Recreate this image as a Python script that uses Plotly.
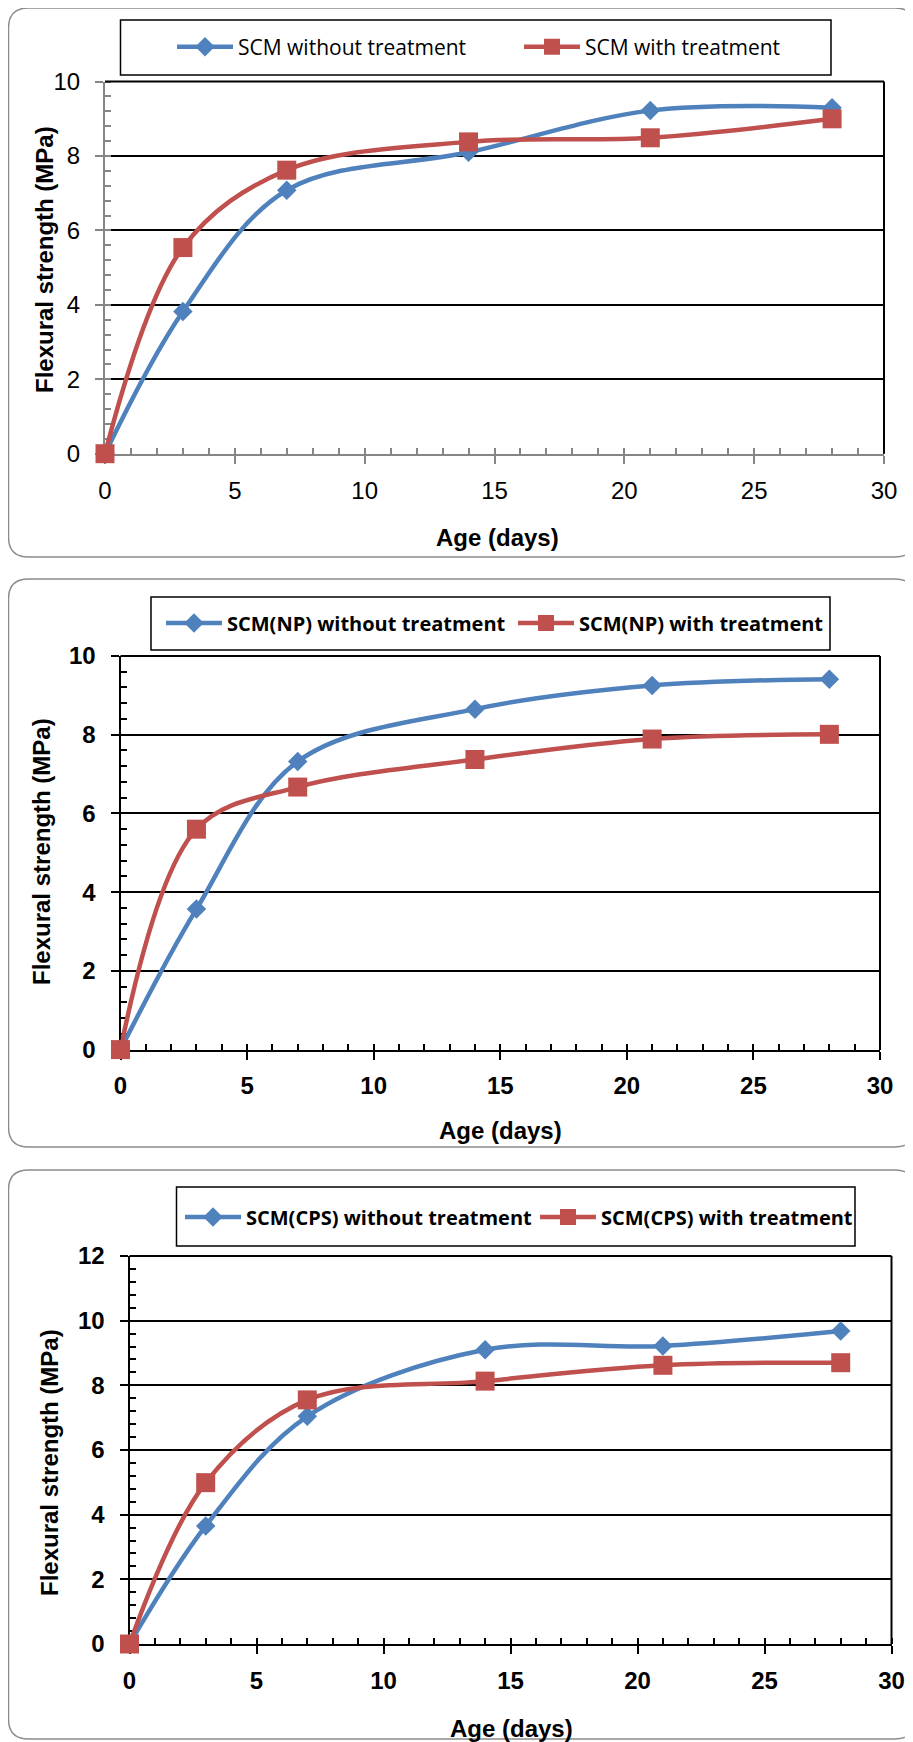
import plotly.graph_objects as go

# ages (days)
days = [0, 3, 7, 14, 21, 28]

# panel 1 - SCM
scm_without = [0, 3.82, 7.08, 8.1, 9.22, 9.3]
scm_with = [0, 5.54, 7.62, 8.38, 8.49, 9.0]

# panel 2 - SCM(NP)
np_without = [0, 3.57, 7.32, 8.65, 9.25, 9.41]
np_with = [0, 5.6, 6.67, 7.37, 7.89, 8.01]

# panel 3 - SCM(CPS)
cps_without = [0, 3.65, 7.04, 9.1, 9.22, 9.68]
cps_with = [0, 4.99, 7.55, 8.13, 8.62, 8.7]

names = [
    ("SCM without treatment", "SCM with treatment"),
    ("SCM(NP) without treatment", "SCM(NP) with treatment"),
    ("SCM(CPS) without treatment", "SCM(CPS) with treatment"),
]
series = [(scm_without, scm_with), (np_without, np_with), (cps_without, cps_with)]
y_max = [10, 10, 12]

# the page puts the figure 8px in from the top-left corner
OFF = 8
W, H = 913 - OFF, 1742 - OFF
BLUE = "#4F81BD"
RED = "#C0504D"


def px(x):
    return (x - OFF) / W


def py(y):
    return 1 - (y - OFF) / H


# pixel layout of each panel (page coords): plot area, legend box, frame, titles
panels = [
    dict(plot=(105, 81.6, 884, 453.7), leg=(120.5, 20, 831, 75), leg_x=(177, 524),
         leg_y=47, legsize=21, frame=(8.5, 8, 915, 557), ytitle=(44, 260),
         xtitle=(498, 537), bold=False, axcol="#868686"),
    dict(plot=(120.5, 656, 880, 1049.6), leg=(151, 597, 830, 650), leg_x=(166, 518),
         leg_y=623, legsize=20, frame=(8.5, 579, 915, 1147), ytitle=(41, 852),
         xtitle=(500, 1130), bold=True, axcol="black"),
    dict(plot=(129.5, 1256, 891.5, 1644), leg=(176.5, 1187, 855, 1246), leg_x=(185, 540),
         leg_y=1217, legsize=20, frame=(8.5, 1170, 915, 1739), ytitle=(49, 1463),
         xtitle=(511, 1728), bold=True, axcol="black"),
]

fig = go.Figure()
shapes = []
annotations = []
layout = {}


def rrect(x0, y0, x1, y1, r):
    pts = [
        ("M", [(x0 + r, y0)]), ("L", [(x1 - r, y0)]), ("Q", [(x1, y0), (x1, y0 + r)]),
        ("L", [(x1, y1 - r)]), ("Q", [(x1, y1), (x1 - r, y1)]),
        ("L", [(x0 + r, y1)]), ("Q", [(x0, y1), (x0, y1 - r)]),
        ("L", [(x0, y0 + r)]), ("Q", [(x0, y0), (x0 + r, y0)]),
    ]
    s = ""
    for cmd, ps in pts:
        s += cmd + " " + " ".join(f"{px(a):.5f},{py(b):.5f}" for a, b in ps) + " "
    return s + "Z"


for i, p in enumerate(panels):
    n = "" if i == 0 else str(i + 1)
    xa, ya = "x" + n, "y" + n
    wo, wi = series[i]
    weight = "bold" if p["bold"] else "normal"
    tickfont = dict(family="Liberation Sans", size=24, color="black", weight=weight)

    # one legend per trace so each entry sits where the reference has it
    leg_a = "legend" + ("" if i == 0 else str(2 * i + 1))
    leg_b = "legend" + str(2 * i + 2)

    fig.add_trace(go.Scatter(
        x=days, y=wo, name=names[i][0], xaxis=xa, yaxis=ya, legend=leg_a,
        mode="lines+markers", line=dict(color=BLUE, width=4.5, shape="spline"),
        marker=dict(symbol="diamond", size=15, color=BLUE), cliponaxis=False))
    fig.add_trace(go.Scatter(
        x=days, y=wi, name=names[i][1], xaxis=xa, yaxis=ya, legend=leg_b,
        mode="lines+markers", line=dict(color=RED, width=4.5, shape="spline"),
        marker=dict(symbol="square", size=19, color=RED), cliponaxis=False))

    for lg, lx in zip((leg_a, leg_b), p["leg_x"]):
        layout[lg] = dict(
            orientation="h", x=px(lx - 5), xanchor="left", y=py(p["leg_y"]),
            yanchor="middle", bgcolor="rgba(0,0,0,0)", borderwidth=0, itemwidth=56,
            font=dict(family="Open Sans", size=p["legsize"], color="black", weight=weight),
            itemclick=False, itemdoubleclick=False, visible=True)

    x0, y0, x1, y1 = p["plot"]
    col = p["axcol"]
    layout["xaxis" + n] = dict(
        domain=[px(x0), px(x1)], anchor=ya, range=[0, 30], dtick=5, tick0=0,
        ticks="outside", ticklen=8, tickwidth=2, tickcolor=col,
        showline=True, linecolor=col, linewidth=2, showgrid=False, zeroline=False,
        minor=dict(dtick=1, ticks="inside", ticklen=6, tickwidth=1.5, tickcolor=col),
        tickfont=tickfont, layer="below traces", ticklabelstandoff=6,
        automargin=False, fixedrange=True)
    layout["yaxis" + n] = dict(
        domain=[py(y1), py(y0)], anchor=xa, range=[0, y_max[i]], dtick=2, tick0=0,
        ticks="outside", ticklen=8, tickwidth=2, tickcolor=col,
        showline=True, linecolor=col, linewidth=2, showgrid=True,
        gridcolor="black", gridwidth=1.5, zeroline=False,
        minor=dict(dtick=0.4, ticks="inside", ticklen=6, tickwidth=1.5, tickcolor=col),
        tickfont=tickfont, layer="below traces", ticklabelstandoff=10,
        automargin=False, fixedrange=True)

    # top and right border of the plot area
    shapes.append(dict(type="line", xref=xa + " domain", yref=ya + " domain",
                       x0=0, x1=1, y0=1, y1=1, line=dict(color="black", width=2)))
    shapes.append(dict(type="line", xref=xa + " domain", yref=ya + " domain",
                       x0=1, x1=1, y0=0, y1=1, line=dict(color="black", width=2)))
    # legend box
    lx0, ly0, lx1, ly1 = p["leg"]
    shapes.append(dict(type="rect", xref="paper", yref="paper",
                       x0=px(lx0), x1=px(lx1), y0=py(ly1), y1=py(ly0),
                       line=dict(color="black", width=1.5)))
    # outer rounded frame
    fx0, fy0, fx1, fy1 = p["frame"]
    shapes.append(dict(type="path", xref="paper", yref="paper",
                       path=rrect(fx0, fy0, fx1, fy1, 20),
                       line=dict(color="#8C8C8C", width=1.5)))

    annotations.append(dict(
        text="Flexural strength (MPa)", xref="paper", yref="paper",
        x=px(p["ytitle"][0]), y=py(p["ytitle"][1]), textangle=-90, showarrow=False,
        xanchor="center", yanchor="middle",
        font=dict(family="Liberation Sans", size=24, color="black", weight="bold")))
    annotations.append(dict(
        text="Age (days)", xref="paper", yref="paper",
        x=px(p["xtitle"][0]), y=py(p["xtitle"][1]), showarrow=False,
        xanchor="center", yanchor="middle",
        font=dict(family="Liberation Sans", size=24, color="black", weight="bold")))

fig.update_layout(layout)
fig.update_layout(
    width=W, height=H, margin=dict(l=0, r=0, t=0, b=0, autoexpand=False),
    paper_bgcolor="white", plot_bgcolor="white", showlegend=True,
    shapes=shapes, annotations=annotations,
)

fig.write_html("out.html")
